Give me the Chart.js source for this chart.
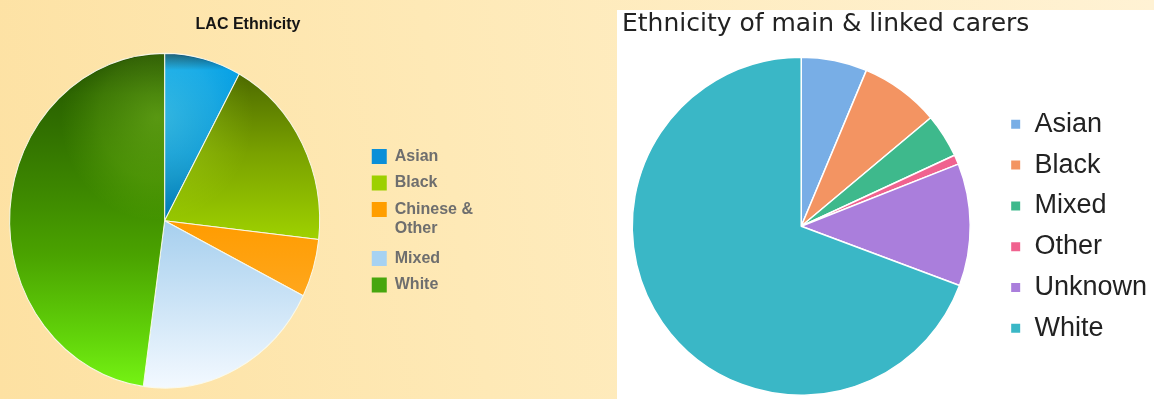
<!DOCTYPE html>
<html>
<head>
<meta charset="utf-8">
<script src="https://cdn.jsdelivr.net/npm/chart.js@4.4.1/dist/chart.umd.min.js"></script>
<style>
  html, body { margin: 0; padding: 0; width: 1154px; height: 399px; overflow: hidden; }
  body { position: relative; background: linear-gradient(80deg, #fde1a2 0%, #fee9b6 40%, #fff2d4 100%); }
  #panel { position: absolute; left: 617px; top: 10px; width: 537px; height: 389px; background: #ffffff; }
  #leftCanvas { position: absolute; left: -32px; top: 0; }
  #rightCanvas { position: absolute; left: 600px; top: 0; }
</style>
</head>
<body>
<div id="panel"></div>
<canvas id="leftCanvas" width="515" height="399"></canvas>
<canvas id="rightCanvas" width="557" height="399"></canvas>
<script>
// ---------- data ----------
const leftTitle = 'LAC Ethnicity';
const leftLabels = ['Asian', 'Black', ['Chinese &', 'Other'], 'Mixed', 'White'];
const leftValues = [8.0, 18.8, 5.6, 19.8, 47.8];

const rightTitle = 'Ethnicity of main & linked carers';
const rightLabels = ['Asian', 'Black', 'Mixed', 'Other', 'Unknown', 'White'];
const rightValues = [6.3, 7.6, 4.2, 0.9, 11.7, 69.3];

// ---------- styles ----------
const leftColors = ['#0a8fd8', '#9dd000', '#ff9e00', '#a6d2f2', '#47a60e'];
const leftGrad = [
  [[0, '#0b4a72'], [0.05, '#049fe6'], [0.3, '#0090d6'], [0.5, '#0077b2']],
  [[0, '#3f5800'], [0.12, '#587800'], [0.3, '#7aa200'], [0.56, '#9fd200']],
  [[0.5, '#ff9c00'], [0.75, '#ffa820']],
  [[0.5, '#a6cfee'], [1, '#f3f9ff']],
  [[0, '#1d4600'], [0.12, '#2a6200'], [0.4, '#3c8600'], [0.6, '#4aa200'], [0.85, '#62d40a'], [1, '#76f414']]
];
const rightColors = ['#78aee6', '#f39462', '#3eb98c', '#f0628f', '#aa7edc', '#3ab7c6'];

const LEFT_R = 155, LEFT_SY = 167.3 / 155;
const RIGHT_R = 169;

function leftFill(c) {
  const chart = c.chart, a = chart.chartArea;
  if (!a) return leftColors[c.dataIndex];
  const cy = (a.top + a.bottom) / 2;
  const g = chart.ctx.createLinearGradient(0, cy - LEFT_R, 0, cy + LEFT_R);
  leftGrad[c.dataIndex].forEach(s => g.addColorStop(s[0], s[1]));
  return g;
}

// draws the pie as a slightly tall ellipse, plus a soft glossy highlight
const ellipse = {
  id: 'ellipse',
  beforeDatasetsDraw(chart, args, opts) {
    const arc = chart.getDatasetMeta(0).data[0];
    const ctx = chart.ctx;
    ctx.save();
    if (arc && opts.sy) {
      ctx.translate(arc.x, arc.y);
      ctx.scale(1, opts.sy);
      ctx.translate(-arc.x, -arc.y);
    }
  },
  afterDatasetsDraw(chart, args, opts) {
    const arc = chart.getDatasetMeta(0).data[0];
    const ctx = chart.ctx;
    if (arc && opts.gloss) {
      const r = arc.outerRadius;
      ctx.save();
      ctx.beginPath();
      ctx.arc(arc.x, arc.y, r - 1, 0, Math.PI * 2);
      ctx.clip();
      const gx = arc.x - 0.05 * r, gy = arc.y - 0.62 * r, gr = 0.62 * r;
      const g = ctx.createRadialGradient(gx, gy, 0, gx, gy, gr);
      g.addColorStop(0, 'rgba(170,255,60,0.30)');
      g.addColorStop(0.6, 'rgba(150,230,40,0.16)');
      g.addColorStop(1, 'rgba(120,200,20,0)');
      ctx.globalCompositeOperation = 'screen';
      ctx.fillStyle = g;
      ctx.fillRect(gx - gr, gy - gr, gr * 2, gr * 2);
      ctx.restore();
    }
    ctx.restore();
  }
};

const titleShift = {
  id: 'titleShift',
  afterLayout(chart, args, opts) {
    const t = chart.titleBlock;
    if (t && opts.dx) { t.left += opts.dx; t.right += opts.dx; }
  }
};

function solidLegend(colors) {
  return function (chart) {
    const items = Chart.overrides.doughnut.plugins.legend.labels.generateLabels(chart);
    items.forEach((it, i) => { it.fillStyle = colors[i]; it.strokeStyle = colors[i]; it.lineWidth = 0; });
    return items;
  };
}

new Chart(document.getElementById('leftCanvas'), {
  type: 'pie',
  data: {
    labels: leftLabels,
    datasets: [{
      data: leftValues,
      backgroundColor: leftFill,
      borderColor: 'rgba(250,250,236,0.95)',
      borderWidth: 1,
      hoverOffset: 0,
      radius: LEFT_R,
      clip: false
    }]
  },
  options: {
    responsive: false,
    animation: false,
    events: [],
    radius: LEFT_R,
    layout: { padding: 0 },
    plugins: {
      title: {
        display: true, text: leftTitle, color: '#151515',
        font: { family: 'Liberation Sans, Arial, sans-serif', size: 16, weight: 'bold' },
        padding: { top: 15, bottom: 8.2 }
      },
      legend: {
        position: 'right',
        fullSize: false,
        labels: {
          boxWidth: 15, boxHeight: 15, padding: 10.5, color: '#6e6e6e',
          font: { family: 'Liberation Sans, Arial, sans-serif', size: 16, weight: 'bold', lineHeight: 1.2 },
          generateLabels: solidLegend(leftColors)
        }
      },
      tooltip: { enabled: false },
      ellipse: { sy: LEFT_SY, gloss: true },
      titleShift: { dx: 22.5 }
    }
  },
  plugins: [ellipse, titleShift]
});

new Chart(document.getElementById('rightCanvas'), {
  type: 'pie',
  data: {
    labels: rightLabels,
    datasets: [{
      data: rightValues,
      backgroundColor: rightColors,
      borderColor: '#ffffff',
      borderWidth: 1.5,
      hoverOffset: 0,
      radius: RIGHT_R,
      clip: false
    }]
  },
  options: {
    responsive: false,
    animation: false,
    events: [],
    radius: RIGHT_R,
    layout: { padding: { left: 5.8, right: 0, top: 0, bottom: 0 } },
    plugins: {
      title: {
        display: true, text: rightTitle, align: 'start', color: '#222222',
        font: { family: 'DejaVu Sans, sans-serif', size: 25, weight: 'normal' },
        padding: { top: 9.5, bottom: 14.1 }
      },
      legend: {
        position: 'right',
        fullSize: false,
        labels: {
          boxWidth: 10.5, boxHeight: 10.5, padding: 13.8, color: '#222222',
          font: { family: 'Liberation Sans, Arial, sans-serif', size: 27, weight: 'normal' }
        }
      },
      tooltip: { enabled: false },
      titleShift: { dx: 16.2 }
    }
  },
  plugins: [titleShift]
});
</script>
</body>
</html>
